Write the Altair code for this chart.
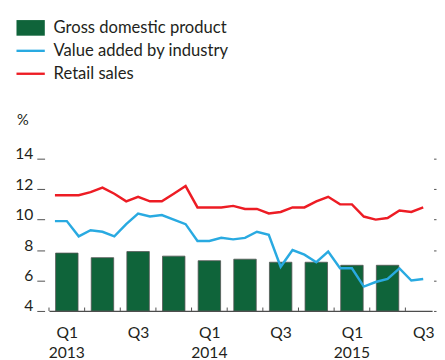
import json
import altair as alt
import pandas as pd

# ---- data -------------------------------------------------------------
series_names = ["Gross domestic product", "Value added by industry", "Retail sales"]
series_colors = ["#0f643a", "#29aae1", "#ed1c24"]

quarters = ["2013Q1", "2013Q2", "2013Q3", "2013Q4", "2014Q1", "2014Q2",
            "2014Q3", "2014Q4", "2015Q1", "2015Q2"]
gdp = [7.8, 7.5, 7.9, 7.6, 7.3, 7.4, 7.2, 7.2, 7.0, 7.0]

months = ["2013-01", "2013-02", "2013-03", "2013-04", "2013-05", "2013-06",
          "2013-07", "2013-08", "2013-09", "2013-10", "2013-11", "2013-12",
          "2014-01", "2014-02", "2014-03", "2014-04", "2014-05", "2014-06",
          "2014-07", "2014-08", "2014-09", "2014-10", "2014-11", "2014-12",
          "2015-01", "2015-02", "2015-03", "2015-04", "2015-05", "2015-06",
          "2015-07", "2015-08"]
industry = [9.9, 9.9, 8.9, 9.3, 9.2, 8.9, 9.7, 10.4, 10.2, 10.3, 10.0, 9.7,
            8.6, 8.6, 8.8, 8.7, 8.8, 9.2, 9.0, 6.9, 8.0, 7.7, 7.2, 7.9,
            6.8, 6.8, 5.6, 5.9, 6.1, 6.8, 6.0, 6.1]
retail = [11.6, 11.6, 11.6, 11.8, 12.1, 11.7, 11.2, 11.5, 11.2, 11.2, 11.7, 12.2,
          10.8, 10.8, 10.8, 10.9, 10.7, 10.7, 10.4, 10.5, 10.8, 10.8, 11.2, 11.5,
          11.0, 11.0, 10.2, 10.0, 10.1, 10.6, 10.5, 10.8]

# x-axis: quarter boundaries (in months) and their labels
tick_positions = [0, 3, 6, 9, 12, 15, 18, 21, 24, 27, 30]
quarter_labels = ["Q1", "", "Q3", "", "Q1", "", "Q3", "", "Q1", "", "Q3"]
years = ["2013", "2014", "2015"]
y_ticks = [4, 6, 8, 10, 12, 14]

# ---- tables built from the lists ---------------------------------------
bars_df = pd.DataFrame({"quarter": quarters, "value": gdp,
                        "pos": [i * 3 + 1.5 for i in range(len(quarters))]})
months_pos = [i + 0.5 for i in range(len(months))]
ind_df = pd.DataFrame({"month": months, "value": industry, "pos": months_pos})
ret_df = pd.DataFrame({"month": months, "value": retail, "pos": months_pos})
ticks_df = pd.DataFrame({"pos": tick_positions})
years_df = pd.DataFrame({"year": years, "pos": [i * 12 + 1.5 for i in range(len(years))]})
legend_df = pd.DataFrame({"series": series_names, "pos": [-5, -5, -5], "value": [5, 5, 5]})

W, H = 392.5, 156
FONT = "Lato"
TXT = "#231f20"
AX = "#4d4d4d"

x_scale = alt.Scale(domain=[0, 32.25], nice=False, zero=False, padding=0)
y_scale = alt.Scale(domain=[4, 14], nice=False, zero=False, padding=0)

label_expr = json.dumps(quarter_labels) + "[round(datum.value / 3)]"

x_axis = alt.Axis(values=tick_positions, labelExpr=label_expr, title=None,
                  tickSize=0, labelOffset=18.25, labelFlush=False,
                  labelOverlap=False, labelBound=False, labelPadding=14,
                  labelFontSize=16, labelFont=FONT, labelColor=TXT,
                  labelBaseline="top",
                  domainColor=AX, domainWidth=1.2, grid=False)

y_axis = alt.Axis(values=y_ticks, title="%", titleAngle=0, titleAlign="left",
                  titleBaseline="alphabetic", titleX=-28.8, titleY=-35,
                  titleFont=FONT, titleFontSize=15, titleFontWeight="normal",
                  titleColor=TXT, offset=4.5, tickSize=8, tickColor=AX,
                  tickWidth=1, domain=False, grid=False, labelPadding=4,
                  labelFontSize=16, labelFont=FONT, labelColor=TXT,
                  labelBaseline="alphabetic", labelFlush=False)

bars = alt.Chart(bars_df).mark_bar(
    size=23, fill=series_colors[0], stroke="#555555", strokeWidth=0.8
).encode(
    x=alt.X("pos:Q", scale=x_scale, axis=x_axis),
    y=alt.Y("value:Q", scale=y_scale, axis=y_axis),
    y2=alt.datum(4),
)

right_axis = alt.Chart(bars_df).mark_tick(opacity=0).encode(
    y=alt.Y("value:Q", scale=y_scale,
            axis=alt.Axis(orient="right", values=y_ticks, labels=False, title=None,
                          domain=False, grid=False, tickSize=2.5, offset=1.5,
                          tickColor=AX, tickWidth=1)),
)

x_ticks = alt.Chart(ticks_df).mark_rule(color=AX, strokeWidth=1).encode(
    x=alt.X("pos:Q", scale=x_scale),
    y=alt.value(H - 3.5),
    y2=alt.value(H),
)

year_text = alt.Chart(years_df).mark_text(
    font=FONT, fontSize=16, color=TXT, baseline="top"
).encode(
    x=alt.X("pos:Q", scale=x_scale),
    y=alt.value(H + 35),
    text="year:N",
)

line_ind = alt.Chart(ind_df).mark_line(color=series_colors[1], strokeWidth=2.5).encode(
    x=alt.X("pos:Q", scale=x_scale),
    y=alt.Y("value:Q", scale=y_scale, axis=None),
)
line_ret = alt.Chart(ret_df).mark_line(color=series_colors[2], strokeWidth=2.5).encode(
    x=alt.X("pos:Q", scale=x_scale),
    y=alt.Y("value:Q", scale=y_scale, axis=None),
)

# legend (points are outside the x domain and clipped; only the legend shows)
shape_paths = ["M-1.45,-0.8H1.45V0.8H-1.45Z",
               "M-1.45,-0.12H1.45V0.12H-1.45Z",
               "M-1.45,-0.12H1.45V0.12H-1.45Z"]
leg = alt.Legend(orient="none", legendX=-28.8, legendY=-144,
                 title=None, symbolSize=400, symbolStrokeWidth=0, symbolOpacity=1,
                 labelFontSize=17, labelFont=FONT, labelColor=TXT,
                 rowPadding=5.5, labelOffset=13.5, padding=0, labelLimit=300)
legend_layer = alt.Chart(legend_df).mark_point(filled=True, clip=True, opacity=1).encode(
    x=alt.X("pos:Q", scale=x_scale),
    y=alt.Y("value:Q", scale=y_scale, axis=None),
    color=alt.Color("series:N", scale=alt.Scale(domain=series_names, range=series_colors),
                    legend=leg),
    shape=alt.Shape("series:N", scale=alt.Scale(domain=series_names, range=shape_paths),
                    legend=leg),
)

chart = alt.layer(bars, right_axis, x_ticks, year_text, line_ind, line_ret,
                  legend_layer).resolve_axis(
    y="independent"
).properties(
    width=W, height=H,
    padding={"left": 6, "top": 6, "right": 0, "bottom": 0},
    background="white",
).configure_view(stroke=None)

chart.save("out.html", embed_options={"renderer": "svg", "actions": False})
